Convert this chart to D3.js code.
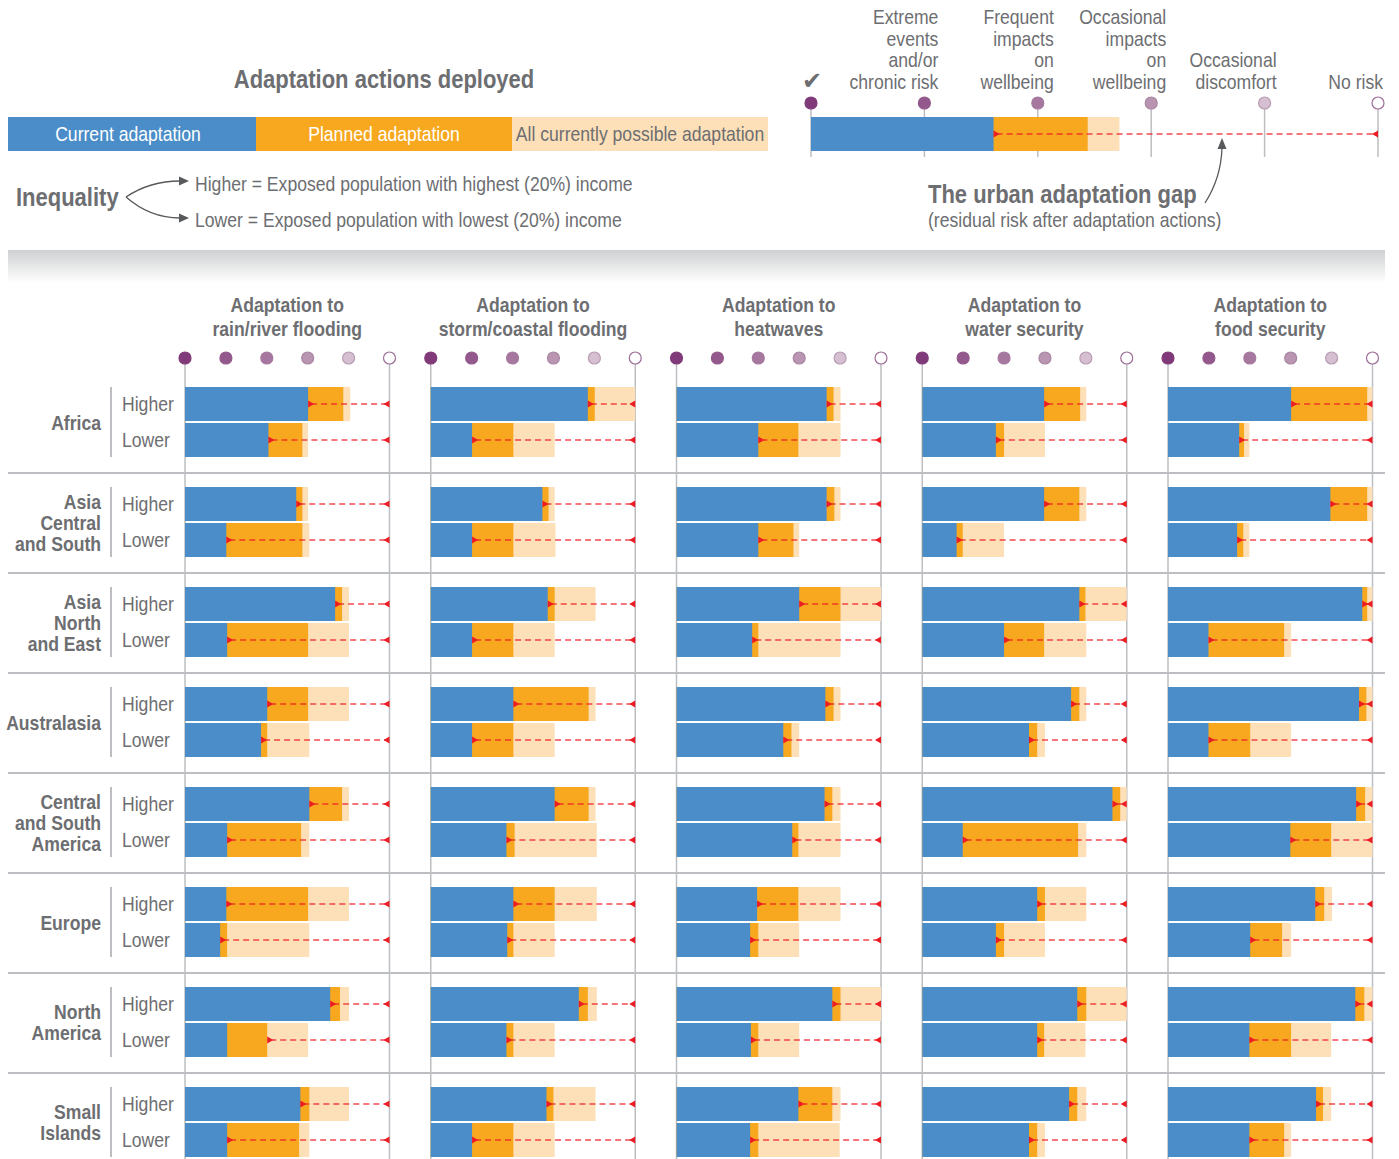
<!DOCTYPE html>
<html>
<head>
<meta charset="utf-8">
<script src="https://cdn.jsdelivr.net/npm/d3@7"></script>
<style>
  body { margin: 0; background: #fff; }
  svg { display: block; font-family: "Liberation Sans", Arial, sans-serif; }
</style>
</head>
<body>
<svg id="chart" width="1399" height="1159"></svg>
<script>
// ---- Data -------------------------------------------------------------
const regions = [
  ["Africa"],
  ["Asia", "Central", "and South"],
  ["Asia", "North", "and East"],
  ["Australasia"],
  ["Central", "and South", "America"],
  ["Europe"],
  ["North", "America"],
  ["Small", "Islands"]
];
const incomeGroups = ["Higher", "Lower"];
const hazards = [
  ["Adaptation to", "rain/river flooding"],
  ["Adaptation to", "storm/coastal flooding"],
  ["Adaptation to", "heatwaves"],
  ["Adaptation to", "water security"],
  ["Adaptation to", "food security"]
];
const riskLevels = [
  ["\u2714"],
  ["Extreme", "events", "and/or", "chronic risk"],
  ["Frequent", "impacts", "on", "wellbeing"],
  ["Occasional", "impacts", "on", "wellbeing"],
  ["Occasional", "discomfort"],
  ["No risk"]
];
const legendItems = ["Current adaptation", "Planned adaptation", "All currently possible adaptation"];

// Risk level reached (0 = extreme ... 5 = no risk), one row per hazard,
// 16 values per row: for each region, Higher income then Lower income.
const currentLevel = [
  [3.01, 2.04, 2.72, 1.01, 3.67, 1.03, 2.01, 1.86, 3.04, 1.03, 1.01, 0.86, 3.55, 1.03, 2.82, 1.03],
  [3.84, 1.01, 2.73, 1.01, 2.86, 1.01, 2.02, 1.01, 3.03, 1.85, 2.02, 1.87, 3.62, 1.85, 2.83, 1.01],
  [3.67, 2.00, 3.67, 2.00, 3.00, 1.85, 3.64, 2.61, 3.62, 2.83, 1.97, 1.80, 3.81, 1.82, 2.98, 1.80],
  [2.98, 1.80, 2.98, 0.84, 3.84, 2.00, 3.64, 2.61, 4.65, 0.99, 2.81, 1.80, 3.79, 2.81, 3.59, 2.61],
  [3.01, 1.74, 3.97, 1.69, 4.75, 0.99, 4.67, 0.99, 4.60, 2.99, 3.60, 2.01, 4.58, 1.99, 3.62, 1.99]
];
const plannedLevel = [
  [3.87, 2.87, 2.87, 2.87, 3.84, 3.01, 3.01, 2.01, 3.84, 2.84, 3.01, 1.03, 3.79, 2.01, 3.04, 2.79],
  [4.01, 2.02, 2.88, 2.02, 3.03, 2.02, 3.86, 2.02, 3.86, 2.05, 3.03, 2.02, 3.84, 2.02, 3.00, 2.02],
  [3.84, 2.98, 3.86, 2.86, 4.01, 2.00, 3.84, 2.81, 3.81, 2.98, 2.98, 2.00, 4.01, 2.00, 3.81, 2.00],
  [3.86, 2.00, 3.84, 0.99, 3.99, 2.98, 3.84, 2.81, 4.84, 3.81, 3.00, 2.00, 4.01, 2.98, 3.79, 2.81],
  [4.87, 1.86, 4.87, 1.84, 4.87, 2.84, 4.85, 2.01, 4.82, 3.99, 3.82, 2.79, 4.80, 3.01, 3.79, 2.84]
];
const possibleLevel = [
  [4.04, 3.01, 3.01, 3.04, 4.01, 4.01, 4.01, 3.04, 4.01, 3.04, 4.01, 3.04, 4.01, 3.01, 4.01, 3.04],
  [5.00, 3.03, 3.03, 3.05, 4.03, 3.03, 4.03, 3.03, 4.03, 4.06, 4.06, 3.03, 4.06, 3.03, 4.03, 3.03],
  [4.01, 4.01, 4.01, 3.00, 5.00, 4.01, 4.01, 3.00, 4.01, 4.01, 4.01, 3.00, 5.00, 3.00, 4.01, 3.99],
  [4.01, 3.00, 4.01, 2.00, 5.00, 4.01, 4.01, 3.00, 5.00, 4.01, 4.01, 3.00, 5.00, 3.99, 4.01, 3.00],
  [5.00, 1.99, 5.00, 1.99, 5.00, 3.01, 5.00, 3.01, 5.00, 5.00, 4.01, 3.01, 5.00, 3.99, 3.99, 3.01]
];
// Where the residual-risk gap begins
const gapStart = [
  [3.01, 2.04, 2.72, 1.01, 3.67, 1.03, 2.01, 1.86, 3.04, 1.03, 1.01, 0.86, 3.55, 2.01, 2.82, 1.03],
  [3.84, 1.01, 2.73, 1.01, 2.86, 1.01, 2.02, 1.01, 3.03, 1.85, 2.02, 1.87, 3.62, 1.85, 2.83, 1.01],
  [3.67, 2.00, 3.67, 2.00, 3.00, 1.85, 3.64, 2.61, 3.62, 2.83, 1.97, 1.80, 3.81, 1.82, 2.98, 1.80],
  [2.98, 1.80, 2.98, 0.84, 3.84, 2.00, 3.64, 2.61, 4.65, 0.99, 2.81, 1.80, 3.79, 2.81, 3.59, 2.61],
  [3.01, 1.74, 3.97, 1.69, 4.75, 0.99, 4.67, 0.99, 4.60, 2.99, 3.60, 2.01, 4.58, 1.99, 3.62, 1.99]
];
// Explanatory example bar
const exampleLevels = [1.61, 2.44, 2.72];
const exampleGap = 1.61;

// ---- Styles -----------------------------------------------------------
const C = {
  current: "#4a8dc8",
  planned: "#f7a81f",
  possible: "#fde0b8",
  gap: "#ec1c24",
  grid: "#bdbec1",
  text: "#6d6e71",
  dark: "#58595b"
};
const circleFill = ["#803a79", "#93598c", "#a6789f", "#b995b2", "#d5bfd1", "#ffffff"];
const circleStroke = ["#803a79", "#93598c", "#a6789f", "#a886a2", "#b79cb3", "#9c6d97"];
const NARROW = 0.88;   // horizontal condensing of all lettering

const svg = d3.select("#chart");

// Condensed multi-line label anchored at (x, y) of its first line
function label(parent, x, y, lines, o = {}) {
  const t = parent.append("text")
    .attr("transform", `translate(${x},0) scale(${o.squeeze || NARROW},1)`)
    .attr("text-anchor", o.anchor || "start")
    .attr("font-size", o.size || 20)
    .attr("font-weight", o.weight || "normal")
    .attr("fill", o.fill || C.text);
  lines.forEach((ln, j) => {
    t.append("tspan").attr("x", 0).attr("y", y + j * (o.lineH || 21)).text(ln);
  });
  return t;
}

// gradient band separating legend and chart grid
const defs = svg.append("defs");
const grad = defs.append("linearGradient").attr("id", "band").attr("x1", 0).attr("y1", 0).attr("x2", 0).attr("y2", 1);
grad.append("stop").attr("offset", "0%").attr("stop-color", "#cfd0d2");
grad.append("stop").attr("offset", "100%").attr("stop-color", "#ffffff");
svg.append("rect").attr("x", 8).attr("y", 250).attr("width", 1377).attr("height", 33).attr("fill", "url(#band)");

// ---- Gap arrow helper ---------------------------------------------------
function drawGap(g, x1, x2, y) {
  g.append("line")
    .attr("x1", x1 + 3).attr("x2", x2 - 3).attr("y1", y).attr("y2", y)
    .attr("stroke", C.gap).attr("stroke-width", 1.6)
    .attr("stroke-opacity", 0.8)
    .attr("stroke-dasharray", "6,4");
  g.append("path")
    .attr("d", `M${x1},${y - 3.5}L${x1 + 6},${y}L${x1},${y + 3.5}Z`)
    .attr("fill", C.gap);
  g.append("path")
    .attr("d", `M${x2},${y - 3.5}L${x2 - 6},${y}L${x2},${y + 3.5}Z`)
    .attr("fill", C.gap);
}

// ---- Legend: deployed adaptation -----------------------------------------
const legend = svg.append("g");
label(legend, 384, 88, ["Adaptation actions deployed"], { anchor: "middle", size: 25, weight: "bold" });

const legendX = d3.scaleBand().domain(d3.range(legendItems.length)).range([0, 768]).paddingInner(0);
const legendLeft = 8;
const legendFill = [C.current, C.planned, C.possible];
const legendText = ["#ffffff", "#ffffff", C.text];
legendItems.forEach((t, i) => {
  const x0 = Math.max(legendLeft, legendX(i));
  const x1 = legendX(i) + legendX.bandwidth();
  legend.append("rect")
    .attr("x", x0).attr("y", 117)
    .attr("width", x1 - x0).attr("height", 34)
    .attr("fill", legendFill[i]);
  label(legend, (x0 + x1) / 2 - (i === 0 ? 4 : 0), 141, [t], { anchor: "middle", size: 20, fill: legendText[i] });
});

// Inequality explanation
label(legend, 16, 206, ["Inequality"], { size: 25, weight: "bold" });
legend.append("path")
  .attr("d", "M126,197 Q150,181 180,181")
  .attr("fill", "none").attr("stroke", C.dark).attr("stroke-width", 1.3);
legend.append("path")
  .attr("d", "M126,197 Q150,218 180,218")
  .attr("fill", "none").attr("stroke", C.dark).attr("stroke-width", 1.3);
legend.append("path").attr("d", "M189,181 L179,176.5 L179,185.5 Z").attr("fill", C.dark);
legend.append("path").attr("d", "M189,218 L179,213.5 L179,222.5 Z").attr("fill", C.dark);
label(legend, 195, 191, ["Higher = Exposed population with highest (20%) income"], { size: 20 });
label(legend, 195, 227, ["Lower = Exposed population with lowest (20%) income"], { size: 20 });

// ---- Legend: risk scale example ------------------------------------------
const ex = svg.append("g");
const xEx = d3.scaleLinear().domain([0, 5]).range([811, 1378]);
const levels = d3.range(6);
ex.selectAll("line.tick").data(levels).join("line")
  .attr("x1", d => xEx(d)).attr("x2", d => xEx(d))
  .attr("y1", 103).attr("y2", 157)
  .attr("stroke", C.grid).attr("stroke-width", 1.5);
const exFill = [C.current, C.planned, C.possible];
[2, 1, 0].forEach(k => {
  ex.append("rect")
    .attr("x", xEx(0)).attr("y", 117)
    .attr("width", xEx(exampleLevels[k]) - xEx(0)).attr("height", 34)
    .attr("fill", exFill[k]);
});
drawGap(ex, xEx(exampleGap), xEx(5), 134);
ex.selectAll("circle").data(levels).join("circle")
  .attr("cx", d => xEx(d)).attr("cy", 103).attr("r", 6)
  .attr("fill", d => circleFill[d]).attr("stroke", d => circleStroke[d]).attr("stroke-width", 1.2);

const labelShift = [1, 14, 16, 15, 12, 5];
riskLevels.forEach((lines, i) => {
  label(ex, xEx(i) + labelShift[i], 89 - (lines.length - 1) * 21.5, lines, {
    anchor: i === 0 ? "middle" : "end",
    size: i === 0 ? 24 : 20,
    squeeze: i === 0 ? 1 : NARROW,
    lineH: 21.5
  });
});

label(ex, 928, 203, ["The urban adaptation gap"], { size: 25, weight: "bold" });
label(ex, 928, 227, ["(residual risk after adaptation actions)"], { size: 20 });
ex.append("path")
  .attr("d", "M1205,203 Q1221,178 1222,148")
  .attr("fill", "none").attr("stroke", C.dark).attr("stroke-width", 1.3);
ex.append("path").attr("d", "M1222,138 L1217.5,149 L1226.5,149 Z").attr("fill", C.dark);

// ---- Grid of panels -------------------------------------------------------
const panelX = d3.scaleLinear().domain([0, hazards.length - 1]).range([185, 1168]);
const panelWidth = 204.5;
const regionY = d3.scaleBand().domain(d3.range(regions.length)).range([373, 1173]);
const barH = 34;
const barOffset = [14, 50];

const grid = svg.append("g");

// region separators
grid.selectAll("line.sep").data(d3.range(1, regions.length)).join("line")
  .attr("x1", 8).attr("x2", 1385)
  .attr("y1", d => regionY(d)).attr("y2", d => regionY(d))
  .attr("stroke", C.grid).attr("stroke-width", 2);

hazards.forEach((hz, h) => {
  const x = d3.scaleLinear().domain([0, 5]).range([panelX(h), panelX(h) + panelWidth]);
  const g = grid.append("g");

  // panel title
  label(g, x(2.5), 312, hz, { anchor: "middle", size: 20, weight: "bold", lineH: 24 });

  // frame lines at extreme risk and no risk
  g.selectAll("line.frame").data([0, 5]).join("line")
    .attr("x1", d => x(d)).attr("x2", d => x(d))
    .attr("y1", 358).attr("y2", 1159)
    .attr("stroke", C.grid).attr("stroke-width", 1.5);

  // bars
  regions.forEach((r, ri) => {
    incomeGroups.forEach((inc, k) => {
      const idx = ri * 2 + k;
      const y = regionY(ri) + barOffset[k];
      const vals = [possibleLevel[h][idx], plannedLevel[h][idx], currentLevel[h][idx]];
      const fills = [C.possible, C.planned, C.current];
      vals.forEach((v, m) => {
        g.append("rect")
          .attr("x", x(0)).attr("y", y)
          .attr("width", x(v) - x(0)).attr("height", barH)
          .attr("fill", fills[m]);
      });
      drawGap(g, x(gapStart[h][idx]), x(5), y + barH / 2);
    });
  });

  // risk scale markers
  g.selectAll("circle").data(levels).join("circle")
    .attr("cx", d => x(d)).attr("cy", 358).attr("r", 6)
    .attr("fill", d => circleFill[d]).attr("stroke", d => circleStroke[d]).attr("stroke-width", 1.2);
});

// region and income labels
regions.forEach((r, ri) => {
  const top = regionY(ri);
  grid.append("line")
    .attr("x1", 111).attr("x2", 111)
    .attr("y1", top + 14).attr("y2", top + 84)
    .attr("stroke", C.grid).attr("stroke-width", 2);
  label(grid, 101, top + 57 - (r.length - 1) / 2 * 21, r, { anchor: "end", size: 20, weight: "bold", lineH: 21 });
  incomeGroups.forEach((inc, k) => {
    label(grid, 122, top + barOffset[k] + barH / 2 + 7, [inc], { size: 20 });
  });
});
</script>
</body>
</html>
